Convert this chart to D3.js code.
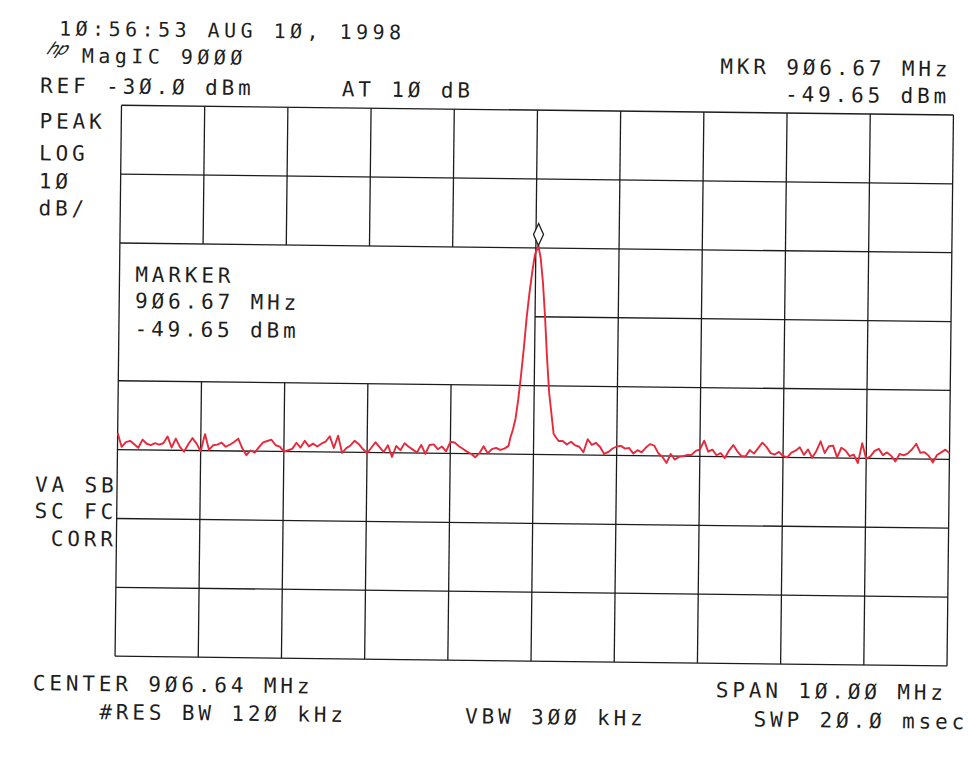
<!DOCTYPE html>
<html>
<head>
<meta charset="utf-8">
<script src="https://cdn.jsdelivr.net/npm/d3@7"></script>
<style>
body { margin: 0; background: #fff; }
</style>
</head>
<body>
<script>
// spectrum analyzer plot
var sweepStart = 901.64, sweepStep = 0.05;   // MHz, 10 MHz span
var refLevel = -30, dbPerDiv = 10;

// noise floor left of the carrier, 901.64 .. 906.34 MHz (dBm)
var lowerBand = [
 -77.6,-79.6,-78.9,-78.7,-79.2,-79.7,-78.5,-79.1,-79.3,-79.0,
 -79.2,-79.0,-78.0,-79.6,-78.3,-79.5,-80.2,-79.1,-78.2,-79.0,
 -80.1,-77.6,-79.9,-79.2,-79.1,-78.8,-79.4,-79.1,-78.7,-78.2,
 -79.6,-80.6,-79.9,-80.2,-79.4,-78.7,-78.5,-78.3,-79.1,-79.3,
 -80.0,-79.8,-79.6,-78.7,-79.4,-78.4,-79.2,-78.8,-79.2,-78.8,
 -78.5,-77.7,-79.4,-77.6,-80.1,-79.4,-79.0,-78.3,-78.8,-79.5,
 -80.1,-79.3,-78.5,-79.2,-79.9,-78.9,-80.6,-79.0,-79.6,-78.6,
 -79.1,-79.5,-79.9,-78.8,-80.1,-78.8,-78.7,-79.4,-79.0,-79.7,
 -78.3,-78.4,-78.9,-79.3,-79.7,-80.0,-80.5,-79.9,-78.9,-79.9,
 -79.3,-79.1,-79.4,-79.2,-78.8
];

// the carrier
var peakFreqs = [906.36,906.39,906.42,906.45,906.48,906.51,906.54,906.57,906.60,906.63,
                 906.67,906.70,906.73,906.76,906.79,906.82,906.85,906.88];
var peakLevels = [-77.6,-76.4,-74.8,-72.0,-68.5,-64.5,-60.0,-56.5,-53.5,-51.0,
                  -49.65,-51.5,-55.0,-60.0,-66.0,-71.0,-74.0,-77.0];

// noise floor right of the carrier, 906.94 .. 911.64 MHz (dBm)
var upperStart = 106;
var upperBand = [
 -78.0,-78.0,-78.5,-78.1,-78.6,-78.8,-79.6,-77.7,-78.5,-78.2,
 -78.8,-79.8,-79.5,-79.0,-78.7,-78.6,-79.0,-78.9,-79.7,-79.2,
 -79.5,-78.8,-78.3,-78.5,-79.6,-80.1,-81.0,-79.7,-80.5,-80.1,
 -80.0,-79.8,-79.8,-79.2,-79.0,-77.7,-79.3,-79.0,-79.8,-79.5,
 -80.2,-79.1,-78.3,-79.2,-79.9,-79.9,-79.0,-79.5,-78.7,-77.9,
 -78.5,-79.4,-79.6,-79.2,-79.8,-80.0,-79.3,-79.0,-78.5,-79.6,
 -78.8,-80.0,-79.0,-77.6,-79.3,-78.3,-78.2,-79.9,-78.5,-78.9,
 -79.7,-79.5,-80.7,-77.8,-80.1,-79.7,-78.9,-78.6,-79.5,-79.1,
 -79.6,-80.4,-79.3,-79.5,-79.2,-78.6,-77.8,-79.1,-79.0,-79.5,
 -80.5,-79.4,-79.0,-78.6,-79.1
];

var markerFreq = 906.67, markerLevel = -49.65;
var freqDivs = [0,1,2,3,4,5,6,7,8,9,10];
var levelLines = [-30,-40,-50,-60,-70,-80,-90,-100,-110];

var headerLines = ["1Ø:56:53 AUG 1Ø, 1998", "MagIC 9ØØØ", "REF -3Ø.Ø dBm", "AT 1Ø dB"];
var markerReadout = ["MKR 9Ø6.67 MHz", "-49.65 dBm"];
var modeLabels = ["PEAK", "LOG", "1Ø", "dB/"];
var markerBox = ["MARKER", "9Ø6.67 MHz", "-49.65 dBm"];
var statusLabels = ["VA SB", "SC FC", "CORR"];
var footerLines = ["CENTER 9Ø6.64 MHz", "#RES BW 12Ø kHz", "VBW 3ØØ kHz", "SPAN 1Ø.ØØ MHz", "SWP 2Ø.Ø msec"];

var width = 980, height = 768;
var plotLeft = 118.25, plotTop = 110.1, plotW = 832, plotH = 551;

var svg = d3.select("body").append("svg")
  .attr("width", width)
  .attr("height", height);

svg.append("rect").attr("width", width).attr("height", height).attr("fill", "#fff");

// the scan is a little crooked
var page = svg.append("g")
  .attr("transform", "rotate(0.67," + (plotLeft + plotW / 2) + "," + (plotTop + plotH / 2) + ")");

var x = d3.scaleLinear().domain([sweepStart, sweepStart + 10]).range([plotLeft, plotLeft + plotW]);
var y = d3.scaleLinear().domain([refLevel - 8 * dbPerDiv, refLevel]).range([plotTop + plotH, plotTop]);

// graticule, with the hole where the marker readout sits
var segs = [];
levelLines.forEach(function(v) {
  var x0 = (v == -60) ? x(sweepStart + 5) : x(sweepStart);
  segs.push([x0, y(v), x(sweepStart + 10), y(v)]);
});
freqDivs.forEach(function(k) {
  var xx = x(sweepStart + k);
  if (k >= 1 && k <= 4) {
    segs.push([xx, y(-30), xx, y(-50)]);
    segs.push([xx, y(-70), xx, y(-110)]);
  } else {
    segs.push([xx, y(-30), xx, y(-110)]);
  }
});
page.append("g").selectAll("line").data(segs).enter().append("line")
  .attr("x1", function(d) { return d[0]; })
  .attr("y1", function(d) { return d[1]; })
  .attr("x2", function(d) { return d[2]; })
  .attr("y2", function(d) { return d[3]; })
  .attr("stroke", "#1c1c1c")
  .attr("stroke-width", 1.3);

// trace
var trace = [];
lowerBand.forEach(function(v, i) { trace.push({f: sweepStart + i * sweepStep, v: v}); });
peakFreqs.forEach(function(f, i) { trace.push({f: f, v: peakLevels[i]}); });
upperBand.forEach(function(v, i) { trace.push({f: sweepStart + (upperStart + i) * sweepStep, v: v}); });
trace.sort(function(a, b) { return a.f - b.f; });

var line = d3.line()
  .x(function(d) { return x(d.f); })
  .y(function(d) { return y(d.v); });

page.append("path")
  .datum(trace)
  .attr("d", line)
  .attr("fill", "none")
  .attr("stroke", "#e62a3c")
  .attr("stroke-width", 1.9)
  .attr("stroke-linejoin", "round");

// marker diamond sitting on the peak
var mx = x(markerFreq), my = y(markerLevel);
page.append("path")
  .attr("d", "M" + mx + "," + my + "l5,-11l-5,-11l-5,11z")
  .attr("fill", "#fff")
  .attr("stroke", "#1c1c1c")
  .attr("stroke-width", 1.3);

function writeText(text, tx, ty, size) {
  size = size || 21;
  page.append("text")
    .attr("x", tx)
    .attr("y", ty)
    .attr("font-family", "DejaVu Sans Mono, monospace")
    .attr("font-size", size)
    .attr("letter-spacing", 16.5 - size * 0.602)
    .attr("fill", "#1e1e1e")
    .text(text);
}

writeText(headerLines[0], 55, 41, 20);
writeText(headerLines[1], 78, 68, 20);
writeText(headerLines[2], 36.6, 98.5);
writeText(headerLines[3], 338.3, 98.5);
writeText(markerReadout[0], 716.5, 71.5);
writeText(markerReadout[1], 781.7, 98.5);

modeLabels.forEach(function(t, i) { writeText(t, 36.5, [134, 166, 194, 221][i]); });
markerBox.forEach(function(t, i) { writeText(t, 134, [286.4, 312.7, 340.7][i]); });
writeText(statusLabels[0], 36.2, 497.5);
writeText(statusLabels[1], 36.2, 523.8);
writeText(statusLabels[2], 52.6, 551.4);

writeText(footerLines[0], 36.3, 696);
writeText(footerLines[1], 103.3, 724.2);
writeText(footerLines[2], 469, 724.2);
writeText(footerLines[3], 719.3, 695);
writeText(footerLines[4], 757.5, 724);

// hp logo
page.append("text")
  .attr("x", 0).attr("y", 0)
  .attr("transform", "translate(42,60) skewX(-25)")
  .attr("font-family", "DejaVu Sans, sans-serif")
  .attr("font-style", "italic")
  .attr("font-size", 17)
  .attr("letter-spacing", -1)
  .attr("fill", "#1e1e1e")
  .text("hp");
</script>
</body>
</html>
